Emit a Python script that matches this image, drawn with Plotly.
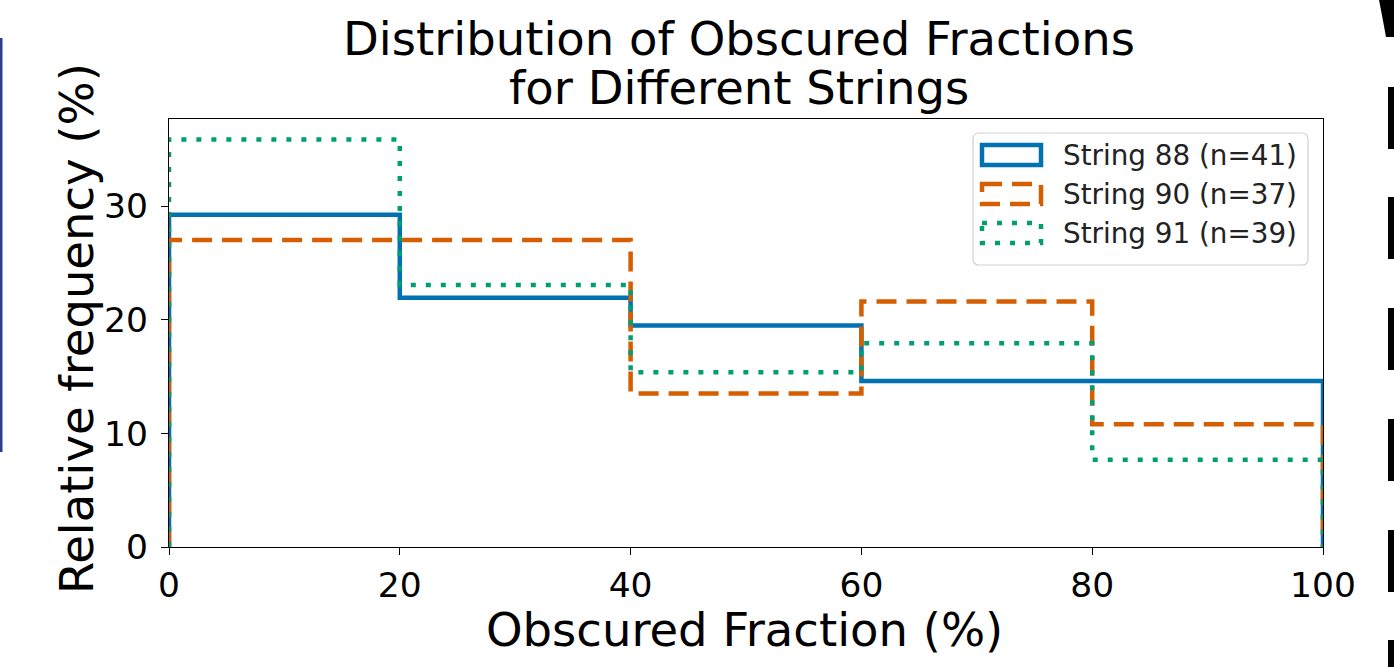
import plotly.graph_objects as go

# ---- data ----
bin_edges = [0, 20, 40, 60, 80, 100]
series_names = ["String 88 (n=41)", "String 90 (n=37)", "String 91 (n=39)"]
string88 = [29.27, 21.95, 19.51, 14.63, 14.63]
string90 = [27.03, 27.03, 13.51, 21.62, 10.81]
string91 = [35.90, 23.08, 15.38, 17.95, 7.69]
x_ticks = [0, 20, 40, 60, 80, 100]
y_ticks = [0, 10, 20, 30]

colors = ["#0072B2", "#D55E00", "#009E73"]
dashes = ["solid", "20px,10px", "5px,10px"]
values = [string88, string90, string91]

W, H = 1394, 667
L, R, T, B = 169, 1323, 119, 547  # plot area in pixels


def px(x):
    return (x - L) / (R - L)


def py(y):
    return (B - y) / (B - T)


fig = go.Figure()
for name, vals, c, d in zip(series_names, values, colors, dashes):
    # step outline: (0,0) -> (0,v1) -> ... -> (100,v5) -> (100,0)
    sx, sy = [bin_edges[0]], [0]
    for i, v in enumerate(vals):
        sx += [bin_edges[i], bin_edges[i + 1]]
        sy += [v, v]
    sx.append(bin_edges[-1])
    sy.append(0)
    fig.add_trace(go.Scatter(x=sx, y=sy, mode="lines", name=name,
                             line=dict(color=c, width=4.5, dash=d),
                             showlegend=False, hoverinfo="skip"))

ymax = max(max(v) for v in values) * 1.05

font = "DejaVu Sans, Liberation Sans, sans-serif"
fig.update_layout(
    width=W, height=H,
    margin=dict(l=L, r=W - R, t=T, b=H - B),
    paper_bgcolor="white", plot_bgcolor="white",
    font=dict(family=font, color="black"),
    xaxis=dict(range=[0, 100], tickvals=x_ticks, ticks="outside", ticklen=7,
               tickwidth=1.2, tickcolor="black", showgrid=False, zeroline=False,
               showline=True, linecolor="black", linewidth=1.2, mirror=True,
               tickfont=dict(size=34.5, family=font, color="black")),
    yaxis=dict(range=[0, ymax], tickvals=y_ticks, ticks="outside", ticklen=7,
               tickwidth=1.2, tickcolor="black", showgrid=False, zeroline=False,
               showline=True, linecolor="black", linewidth=1.2, mirror=True,
               ticklabelstandoff=6,
               tickfont=dict(size=34.5, family=font, color="black")),
)

# axis titles
fig.add_annotation(text="Obscured Fraction (%)", xref="paper", yref="paper",
                   x=px(744), y=py(630), xanchor="center", yanchor="middle", showarrow=False,
                   font=dict(size=46.5, family=font, color="black"))
fig.add_annotation(text="Relative frequency (%)", xref="paper", yref="paper",
                   x=px(77), y=py(329), xanchor="center", yanchor="middle", showarrow=False,
                   textangle=-90, font=dict(size=46.5, family=font, color="black"))

# title (two lines)
fig.add_annotation(text="Distribution of Obscured Fractions", xref="paper", yref="paper",
                   x=px(739), y=py(39), xanchor="center", yanchor="middle", showarrow=False,
                   font=dict(size=46.5, family=font, color="black"))
fig.add_annotation(text="for Different Strings", xref="paper", yref="paper",
                   x=px(739), y=py(88), xanchor="center", yanchor="middle", showarrow=False,
                   font=dict(size=46.5, family=font, color="black"))

# legend (matplotlib-style patches)
lx0, lx1, ly0, ly1 = 973, 1308, 133, 265
r = 6
path = (f"M {px(lx0 + r)},{py(ly0)} L {px(lx1 - r)},{py(ly0)} "
        f"Q {px(lx1)},{py(ly0)} {px(lx1)},{py(ly0 + r)} "
        f"L {px(lx1)},{py(ly1 - r)} Q {px(lx1)},{py(ly1)} {px(lx1 - r)},{py(ly1)} "
        f"L {px(lx0 + r)},{py(ly1)} Q {px(lx0)},{py(ly1)} {px(lx0)},{py(ly1 - r)} "
        f"L {px(lx0)},{py(ly0 + r)} Q {px(lx0)},{py(ly0)} {px(lx0 + r)},{py(ly0)} Z")
fig.add_shape(type="path", path=path, xref="paper", yref="paper",
              line=dict(color="#d0d0d0", width=1.2), fillcolor="rgba(255,255,255,0.8)")
row_centres = [155, 194, 233]
for name, c, d, yc in zip(series_names, colors, dashes, row_centres):
    fig.add_shape(type="rect", xref="paper", yref="paper",
                  x0=px(982), x1=px(1041), y0=py(yc - 10), y1=py(yc + 10),
                  line=dict(color=c, width=4.5, dash=d), fillcolor="rgba(0,0,0,0)")
    fig.add_annotation(text=name, xref="paper", yref="paper", x=px(1061), y=py(yc),
                       xanchor="left", yanchor="middle", showarrow=False,
                       font=dict(size=27.8, family=font, color="#222222"))

# scan artifacts at the page edges
fig.add_shape(type="rect", xref="paper", yref="paper", x0=px(0), x1=px(2.5),
              y0=py(38), y1=py(452), line=dict(width=0), fillcolor="#2b3f8f", layer="above")
for y0 in [87, 197, 308, 419, 530, 640]:
    fig.add_shape(type="rect", xref="paper", yref="paper", x0=px(1388), x1=px(1395),
                  y0=py(y0), y1=py(min(y0 + 62, 668)), line=dict(width=0),
                  fillcolor="black", layer="above")
fig.add_shape(type="path", xref="paper", yref="paper",
              path=f"M {px(1379)},{py(0)} L {px(1395)},{py(0)} L {px(1395)},{py(37)} "
                   f"L {px(1386)},{py(37)} Q {px(1382)},{py(15)} {px(1379)},{py(0)} Z",
              line=dict(width=0), fillcolor="black", layer="above")

fig.write_html("out.html", config={"displayModeBar": False},
               post_script="document.body.style.margin='0';document.body.style.overflow='hidden';")
